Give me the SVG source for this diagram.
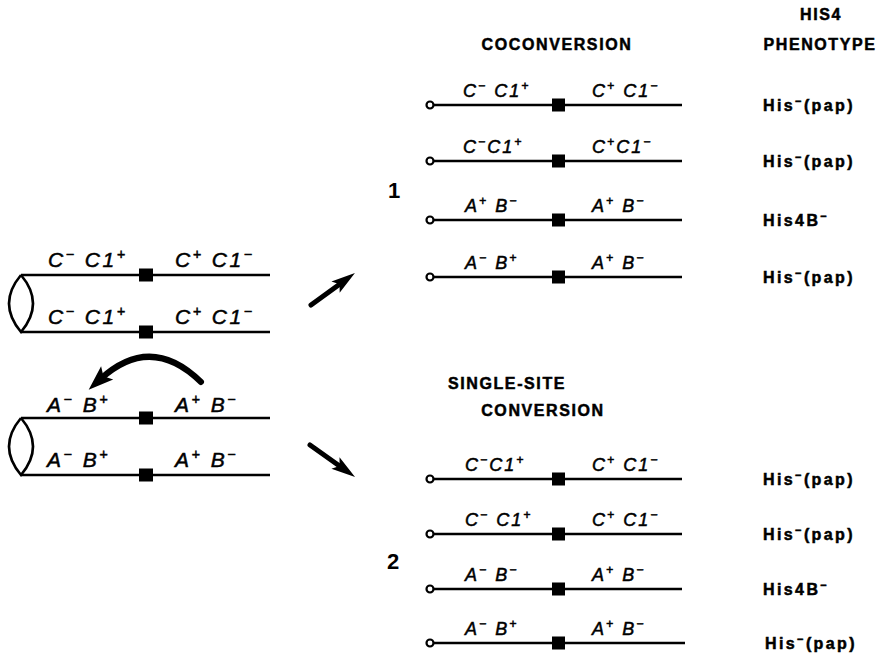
<svg xmlns="http://www.w3.org/2000/svg" width="880" height="657" viewBox="0 0 880 657">
  <style>
    .strand { stroke: #000; stroke-width: 2.6; fill: none; }
    .end { stroke: #000; stroke-width: 2.2; fill: #fff; }
    .lbl { font-family: "Liberation Sans", Arial, sans-serif; font-style: italic; fill: #000; stroke: #000; stroke-width: 0.5; }
    .big { font-size: 21px; letter-spacing: 2.5px; }
    .sm { font-size: 18px; letter-spacing: 2px; }
    .sup { font-size: 68%; baseline-shift: super; }
    .ph { font-family: "Liberation Sans", Arial, sans-serif; font-weight: bold; font-size: 16px; letter-spacing: 2.4px; fill: #000; stroke: #000; stroke-width: 0.5; }
    .hd { font-family: "Liberation Sans", Arial, sans-serif; font-weight: bold; font-size: 16px; letter-spacing: 1.6px; fill: #000; stroke: #000; stroke-width: 0.5; }
    .num { font-family: "Liberation Sans", Arial, sans-serif; font-weight: bold; font-size: 22px; fill: #000; }
    .shaft { stroke: #000; stroke-width: 5; fill: none; stroke-linecap: round; }
    .curve { stroke: #000; stroke-width: 6; fill: none; stroke-linecap: round; }
  </style>
  <defs>
    <marker id="head" markerUnits="userSpaceOnUse" viewBox="-10 -9 28 18" refX="0" refY="0" markerWidth="28" markerHeight="18" orient="auto" overflow="visible">
      <path d="M16,0 L-8,-7 L-3,0 L-8,7 Z" fill="#000"/>
    </marker>
    <marker id="head-lg" markerUnits="userSpaceOnUse" viewBox="-12 -11 30 22" refX="0" refY="0" markerWidth="30" markerHeight="22" orient="auto" overflow="visible">
      <path d="M16,0 L-9,-9 L-4,0 L-9,9 Z" fill="#000"/>
    </marker>
  </defs>

  <rect width="880" height="657" fill="#fff"/>

  <!-- column headings -->
  <g id="headings">
    <text x="821" y="20" class="hd" text-anchor="middle">HIS4</text>
    <text x="820" y="50" class="hd" text-anchor="middle">PHENOTYPE</text>
    <text x="557" y="50" class="hd" text-anchor="middle">COCONVERSION</text>
    <text x="507" y="389" class="hd" text-anchor="middle">SINGLE-SITE</text>
    <text x="543" y="416" class="hd" text-anchor="middle">CONVERSION</text>
    <text x="388" y="198" class="num">1</text>
    <text x="387" y="569" class="num">2</text>
  </g>

  <!-- parental duplex, C markers -->
  <g id="duplex-c">
    <path d="M21,275 C5,294 5,313 21,332 C37,313 37,294 21,275" class="strand"/>
    <line x1="21" y1="275" x2="270" y2="275" class="strand"/>
    <line x1="21" y1="332" x2="270" y2="332" class="strand"/>
    <rect x="139" y="268.5" width="14" height="13"/>
    <rect x="139" y="325.5" width="14" height="13"/>
    <text x="48" y="267" class="lbl big">C<tspan class="sup">−</tspan> C1<tspan class="sup">+</tspan></text>
    <text x="175" y="267" class="lbl big">C<tspan class="sup">+</tspan> C1<tspan class="sup">−</tspan></text>
    <text x="48" y="324" class="lbl big">C<tspan class="sup">−</tspan> C1<tspan class="sup">+</tspan></text>
    <text x="175" y="324" class="lbl big">C<tspan class="sup">+</tspan> C1<tspan class="sup">−</tspan></text>
  </g>

  <!-- parental duplex, A/B markers -->
  <g id="duplex-ab">
    <path d="M21,418 C5,437 5,456 21,475 C37,456 37,437 21,418" class="strand"/>
    <line x1="21" y1="418" x2="270" y2="418" class="strand"/>
    <line x1="21" y1="475" x2="270" y2="475" class="strand"/>
    <rect x="139" y="411.5" width="14" height="13"/>
    <rect x="139" y="468.5" width="14" height="13"/>
    <text x="47" y="412" class="lbl big">A<tspan class="sup">−</tspan> B<tspan class="sup">+</tspan></text>
    <text x="175" y="412" class="lbl big">A<tspan class="sup">+</tspan> B<tspan class="sup">−</tspan></text>
    <text x="47" y="467" class="lbl big">A<tspan class="sup">−</tspan> B<tspan class="sup">+</tspan></text>
    <text x="175" y="467" class="lbl big">A<tspan class="sup">+</tspan> B<tspan class="sup">−</tspan></text>
  </g>

  <!-- coconversion products -->
  <g id="co-1">
    <line x1="433" y1="105" x2="682" y2="105" class="strand"/>
    <circle cx="430" cy="105" r="3.5" class="end"/>
    <rect x="552" y="98.5" width="13" height="13"/>
    <text x="463" y="97" class="lbl sm">C<tspan class="sup">−</tspan> C1<tspan class="sup">+</tspan></text>
    <text x="592" y="97" class="lbl sm">C<tspan class="sup">+</tspan> C1<tspan class="sup">−</tspan></text>
    <text x="763" y="111" class="ph">His<tspan class="sup">−</tspan>(pap)</text>
  </g>
  <g id="co-2">
    <line x1="433" y1="161" x2="682" y2="161" class="strand"/>
    <circle cx="430" cy="161" r="3.5" class="end"/>
    <rect x="552" y="154.5" width="13" height="13"/>
    <text x="463" y="153" class="lbl sm">C<tspan class="sup">−</tspan>C1<tspan class="sup">+</tspan></text>
    <text x="592" y="153" class="lbl sm">C<tspan class="sup">+</tspan>C1<tspan class="sup">−</tspan></text>
    <text x="763" y="167" class="ph">His<tspan class="sup">−</tspan>(pap)</text>
  </g>
  <g id="co-3">
    <line x1="433" y1="220" x2="682" y2="220" class="strand"/>
    <circle cx="430" cy="220" r="3.5" class="end"/>
    <rect x="552" y="213.5" width="13" height="13"/>
    <text x="465" y="212" class="lbl sm">A<tspan class="sup">+</tspan> B<tspan class="sup">−</tspan></text>
    <text x="592" y="212" class="lbl sm">A<tspan class="sup">+</tspan> B<tspan class="sup">−</tspan></text>
    <text x="763" y="226" class="ph">His4B<tspan class="sup">−</tspan></text>
  </g>
  <g id="co-4">
    <line x1="433" y1="277" x2="682" y2="277" class="strand"/>
    <circle cx="430" cy="277" r="3.5" class="end"/>
    <rect x="552" y="270.5" width="13" height="13"/>
    <text x="465" y="269" class="lbl sm">A<tspan class="sup">−</tspan> B<tspan class="sup">+</tspan></text>
    <text x="592" y="269" class="lbl sm">A<tspan class="sup">+</tspan> B<tspan class="sup">−</tspan></text>
    <text x="763" y="283" class="ph">His<tspan class="sup">−</tspan>(pap)</text>
  </g>

  <!-- single-site conversion products -->
  <g id="ss-1">
    <line x1="433" y1="479" x2="682" y2="479" class="strand"/>
    <circle cx="430" cy="479" r="3.5" class="end"/>
    <rect x="552" y="472.5" width="13" height="13"/>
    <text x="465" y="471" class="lbl sm">C<tspan class="sup">−</tspan>C1<tspan class="sup">+</tspan></text>
    <text x="592" y="471" class="lbl sm">C<tspan class="sup">+</tspan> C1<tspan class="sup">−</tspan></text>
    <text x="763" y="485" class="ph">His<tspan class="sup">−</tspan>(pap)</text>
  </g>
  <g id="ss-2">
    <line x1="433" y1="534" x2="682" y2="534" class="strand"/>
    <circle cx="430" cy="534" r="3.5" class="end"/>
    <rect x="552" y="527.5" width="13" height="13"/>
    <text x="465" y="526" class="lbl sm">C<tspan class="sup">−</tspan> C1<tspan class="sup">+</tspan></text>
    <text x="592" y="526" class="lbl sm">C<tspan class="sup">+</tspan> C1<tspan class="sup">−</tspan></text>
    <text x="763" y="540" class="ph">His<tspan class="sup">−</tspan>(pap)</text>
  </g>
  <g id="ss-3">
    <line x1="433" y1="589" x2="682" y2="589" class="strand"/>
    <circle cx="430" cy="589" r="3.5" class="end"/>
    <rect x="552" y="582.5" width="13" height="13"/>
    <text x="465" y="581" class="lbl sm">A<tspan class="sup">−</tspan> B<tspan class="sup">−</tspan></text>
    <text x="592" y="581" class="lbl sm">A<tspan class="sup">+</tspan> B<tspan class="sup">−</tspan></text>
    <text x="763" y="595" class="ph">His4B<tspan class="sup">−</tspan></text>
  </g>
  <g id="ss-4">
    <line x1="433" y1="643" x2="685" y2="643" class="strand"/>
    <circle cx="430" cy="643" r="3.5" class="end"/>
    <rect x="552" y="636.5" width="13" height="13"/>
    <text x="465" y="635" class="lbl sm">A<tspan class="sup">−</tspan> B<tspan class="sup">+</tspan></text>
    <text x="592" y="635" class="lbl sm">A<tspan class="sup">+</tspan> B<tspan class="sup">−</tspan></text>
    <text x="765" y="649" class="ph">His<tspan class="sup">−</tspan>(pap)</text>
  </g>

  <!-- arrows -->
  <g id="connectors">
    <path d="M201,382 Q151,333 100.5,379" class="curve" marker-end="url(#head-lg)"/>
    <line x1="311" y1="305" x2="342" y2="282.4" class="shaft" marker-end="url(#head)"/>
    <line x1="310" y1="445" x2="342" y2="467.7" class="shaft" marker-end="url(#head)"/>
  </g>
</svg>
